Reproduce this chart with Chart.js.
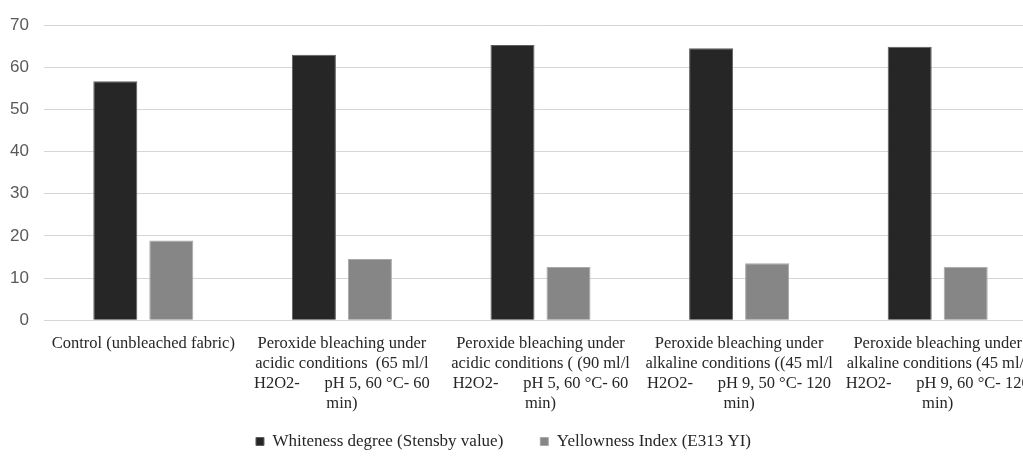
<!DOCTYPE html>
<html>
<head>
<meta charset="utf-8">
<script src="https://cdn.jsdelivr.net/npm/chart.js@4/dist/chart.umd.min.js"></script>
<style>
  html, body { margin: 0; padding: 0; background: #ffffff; overflow: hidden; }
  #wrap { width: 1052px; height: 456px; }
</style>
</head>
<body>
<div id="wrap"><canvas id="c" width="1052" height="456"></canvas></div>
<script>
// Treatment categories, each label split into its printed lines
const categories = [
  ['Control (unbleached fabric)'],
  ['Peroxide bleaching under', 'acidic conditions  (65 ml/l', 'H2O2-      pH 5, 60 °C- 60', 'min)'],
  ['Peroxide bleaching under', 'acidic conditions ( (90 ml/l', 'H2O2-      pH 5, 60 °C- 60', 'min)'],
  ['Peroxide bleaching under', 'alkaline conditions ((45 ml/l', 'H2O2-      pH 9, 50 °C- 120', 'min)'],
  ['Peroxide bleaching under', 'alkaline conditions (45 ml/l', 'H2O2-      pH 9, 60 °C- 120', 'min)']
];

const seriesNames = ['Whiteness degree (Stensby value)', 'Yellowness Index (E313 YI)'];
const whiteness = [56.7, 63.0, 65.3, 64.5, 64.9];
const yellowness = [18.9, 14.5, 12.6, 13.5, 12.7];

const yTicks = [0, 10, 20, 30, 40, 50, 60, 70];

const serif = "'Liberation Serif', 'Times New Roman', serif";
const sans = "'Liberation Sans', Arial, sans-serif";

// Moves the bottom legend slightly left and up from its default slot
const legendShift = {
  id: 'legendShift',
  afterLayout(chart) {
    const lg = chart.legend;
    if (!lg) return;
    lg.left -= 15; lg.right -= 15;
    lg.top -= 24; lg.bottom -= 24;
  }
};

new Chart(document.getElementById('c'), {
  type: 'bar',
  data: {
    labels: categories,
    datasets: [
      {
        label: seriesNames[0],
        data: whiteness,
        backgroundColor: '#262626',
        borderColor: '#5e5e5e',
        borderWidth: 1
      },
      {
        label: seriesNames[1],
        data: yellowness,
        backgroundColor: '#868686',
        borderColor: '#a8a8a8',
        borderWidth: 1
      }
    ]
  },
  options: {
    responsive: false,
    animation: false,
    events: [],
    devicePixelRatio: 1,
    categoryPercentage: 0.564,
    barPercentage: 0.786,
    layout: { padding: { top: 22, right: 15, bottom: -28, left: 0 } },
    scales: {
      x: {
        grid: { display: false },
        border: { display: false },
        ticks: {
          color: '#262626',
          font: { family: serif, size: 16.5, lineHeight: 1.21 },
          maxRotation: 0,
          minRotation: 0,
          autoSkip: false,
          padding: 6
        }
      },
      y: {
        min: 0,
        max: 70,
        afterFit(scale) { scale.width = 44; },
        afterBuildTicks(scale) { scale.ticks = yTicks.map(v => ({ value: v })); },
        grid: { color: '#d6d6d6', lineWidth: 1, drawTicks: false },
        border: { display: false },
        ticks: {
          color: '#595959',
          font: { family: sans, size: 17 },
          padding: 15
        }
      }
    },
    plugins: {
      legend: {
        position: 'bottom',
        labels: {
          color: '#262626',
          font: { family: serif, size: 17 },
          boxWidth: 8,
          boxHeight: 8,
          padding: 37
        }
      },
      tooltip: { enabled: false }
    }
  },
  plugins: [legendShift]
});
</script>
</body>
</html>
